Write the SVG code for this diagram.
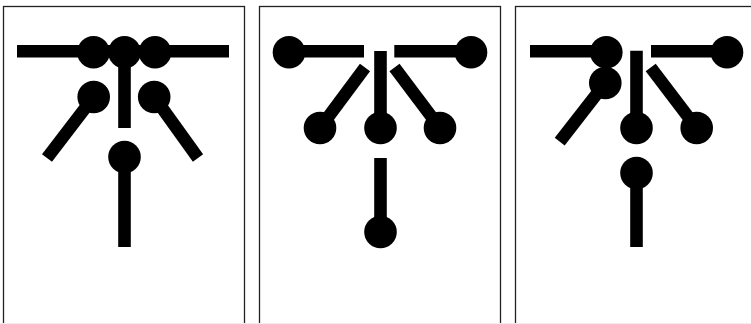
<svg xmlns="http://www.w3.org/2000/svg" width="751" height="324" viewBox="0 0 751 324">
<style>
.panel{fill:#fff;stroke:#222;stroke-width:1.3}
.c{stroke:#000;stroke-width:12.6;stroke-linecap:butt;fill:none}
.n{fill:#000}
</style>
<rect width="751" height="324" fill="#fff"/>
<g id="panels">
<rect class="panel" x="3.5" y="6.5" width="241" height="330"/>
<rect class="panel" x="259.5" y="6.5" width="241" height="330"/>
<rect class="panel" x="515.5" y="6.5" width="241" height="330"/>
</g>
<g id="connectors">
<line class="c" x1="17" y1="51.3" x2="229" y2="51.3"/>
<line class="c" x1="124.5" y1="52" x2="124.5" y2="128"/>
<line class="c" x1="93.7" y1="97" x2="47" y2="158"/>
<line class="c" x1="154.2" y1="97" x2="198" y2="158"/>
<line class="c" x1="124.5" y1="157" x2="124.5" y2="247"/>

<line class="c" x1="289" y1="51.3" x2="364" y2="51.3"/>
<line class="c" x1="394.3" y1="51.3" x2="471" y2="51.3"/>
<line class="c" x1="380.5" y1="51" x2="380.5" y2="128"/>
<line class="c" x1="365" y1="67.5" x2="320" y2="128"/>
<line class="c" x1="394.5" y1="67.5" x2="440" y2="128"/>
<line class="c" x1="380.5" y1="158" x2="380.5" y2="232"/>

<line class="c" x1="530" y1="51.3" x2="606.3" y2="51.3"/>
<line class="c" x1="605.3" y1="83" x2="559.7" y2="141.7"/>
<line class="c" x1="636.5" y1="50.7" x2="636.5" y2="128"/>
<line class="c" x1="651" y1="51.3" x2="727" y2="51.3"/>
<line class="c" x1="650.7" y1="67.5" x2="696.7" y2="128"/>
<line class="c" x1="636.5" y1="173" x2="636.5" y2="247"/>
</g>
<g id="p1-n1"><circle class="n" cx="93.5" cy="52.3" r="16.3"/></g>
<g id="p1-n2"><circle class="n" cx="124.5" cy="52.3" r="16.3"/></g>
<g id="p1-n3"><circle class="n" cx="155" cy="52.3" r="16.3"/></g>
<g id="p1-n4"><circle class="n" cx="93.7" cy="97" r="16.3"/></g>
<g id="p1-n5"><circle class="n" cx="154.2" cy="97" r="16.3"/></g>
<g id="p1-n6"><circle class="n" cx="124.5" cy="157" r="16.3"/></g>

<g id="p2-n1"><circle class="n" cx="289" cy="52.3" r="16.3"/></g>
<g id="p2-n2"><circle class="n" cx="471" cy="52.3" r="16.3"/></g>
<g id="p2-n3"><circle class="n" cx="320" cy="128" r="16.3"/></g>
<g id="p2-n4"><circle class="n" cx="380.5" cy="128" r="16.3"/></g>
<g id="p2-n5"><circle class="n" cx="440" cy="128" r="16.3"/></g>
<g id="p2-n6"><circle class="n" cx="380.5" cy="232" r="16.3"/></g>

<g id="p3-n1"><circle class="n" cx="606.3" cy="52.2" r="16.3"/></g>
<g id="p3-n2"><circle class="n" cx="605.3" cy="83" r="16.3"/></g>
<g id="p3-n3"><circle class="n" cx="727" cy="52.3" r="16.3"/></g>
<g id="p3-n4"><circle class="n" cx="636.5" cy="128" r="16.3"/></g>
<g id="p3-n5"><circle class="n" cx="696.7" cy="128" r="16.3"/></g>
<g id="p3-n6"><circle class="n" cx="636.5" cy="173" r="16.3"/></g>
<rect x="0" y="323" width="751" height="1" fill="#eeeeee"/>
</svg>
